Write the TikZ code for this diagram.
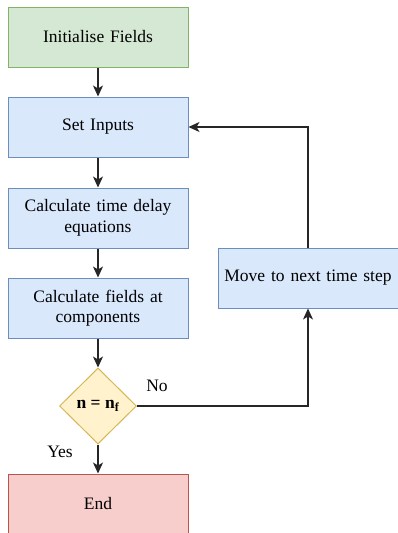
\documentclass[tikz,border=0pt]{standalone}
\usepackage{fontspec}
\setmainfont{Liberation Serif}
\usetikzlibrary{arrows.meta,shapes.geometric}

\definecolor{greenfill}{HTML}{D5E8D4}
\definecolor{greenline}{HTML}{82B366}
\definecolor{bluefill}{HTML}{DAE8FC}
\definecolor{blueline}{HTML}{6C8EBF}
\definecolor{yellowfill}{HTML}{FFF2CC}
\definecolor{yellowline}{HTML}{D6B656}
\definecolor{redfill}{HTML}{F8CECC}
\definecolor{redline}{HTML}{B85450}

\tikzset{
  flowbox/.style={draw, line width=1pt, minimum width=180pt, minimum height=60pt,
    text width=172pt, inner sep=4pt, align=center},
  procbox/.style={flowbox, draw=blueline, fill=bluefill},
  decision/.style={diamond, draw=yellowline, fill=yellowfill, line width=1pt,
    aspect=1, minimum width=77pt, minimum height=76pt, inner sep=0pt},
  flowline/.style={line width=1.1pt, black!85, -{Stealth[length=11pt,width=10pt,inset=3pt]}}
}

\begin{document}
\begin{tikzpicture}[x=1pt,y=-1pt,font=\fontsize{17.5}{20.5}\selectfont]
    \useasboundingbox (0,0) rectangle (397,533);
    % main column
    \node[flowbox, draw=greenline, fill=greenfill] (init) at (98,37) {Initialise Fields};
    \node[procbox] (inputs) at (98,127) {Set Inputs};
    \node[procbox] (delay) at (98,218) {Calculate time delay\\equations};
    \node[procbox] (fields) at (98,308) {Calculate fields at\\components};
    \node[decision] (check) at (98,406) {\textbf{n = n\textsubscript{f}}};
    \node[flowbox, draw=redline, fill=redfill] (finish) at (98,504) {End};
    % loop back
    \node[procbox] (move) at (308,278) {Move to next time step};
    % labels
    \node (yes) at (60,452) {Yes};
    \node (no) at (157,386) {No};
    % connectors
    \draw[flowline] (init) -- (inputs);
    \draw[flowline] (inputs) -- (delay);
    \draw[flowline] (delay) -- (fields);
    \draw[flowline] (fields) -- (check);
    \draw[flowline] (check) -- (finish);
    \draw[flowline] (check.east) -| (move.south);
    \draw[flowline] (move.north) |- (inputs.east);
\end{tikzpicture}
\end{document}
